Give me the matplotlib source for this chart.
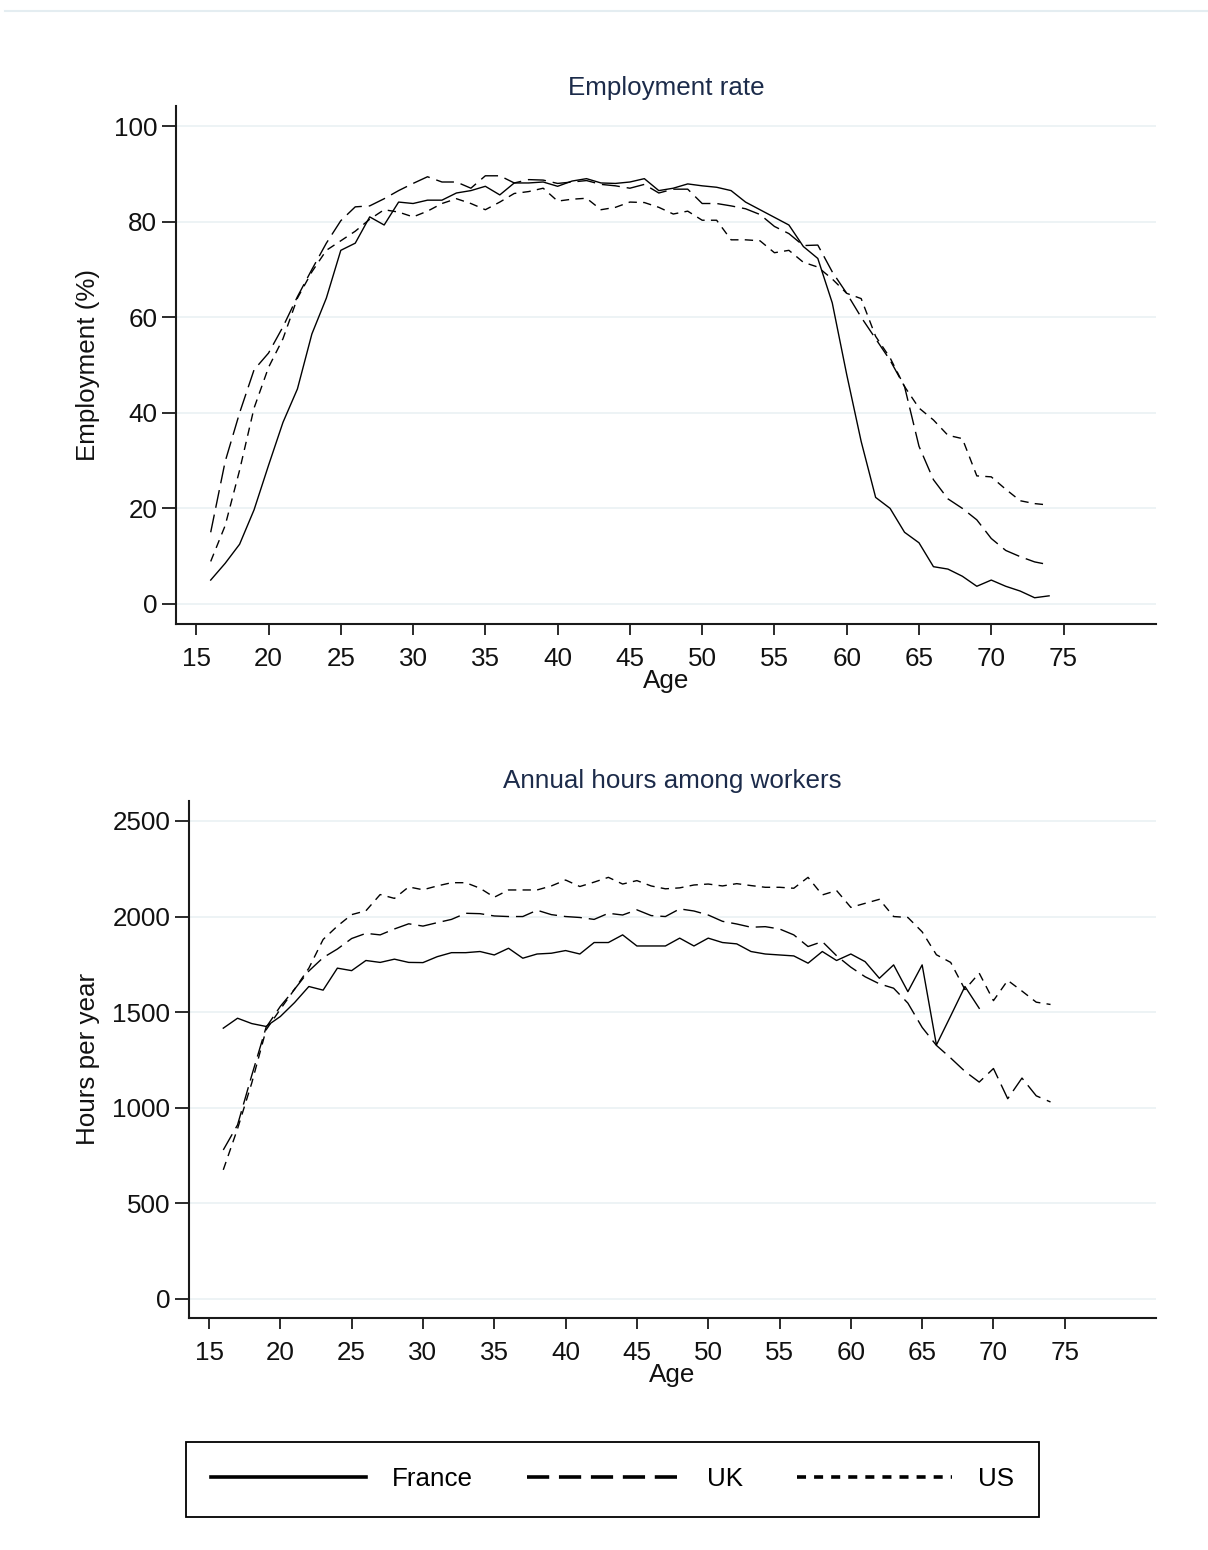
import matplotlib
matplotlib.use("Agg")
import matplotlib.pyplot as plt
from matplotlib.lines import Line2D

plt.rcParams["font.family"] = ["Liberation Sans", "DejaVu Sans"]
plt.rcParams["lines.scale_dashes"] = False

# Age groups
ages = list(range(16, 75))
ages_france_hours = list(range(16, 70))

# Employment rate (%) by age
emp_france = [5.0, 8.5, 12.5, 19.7, 29.0, 38.0, 45.0, 56.5, 64.0, 74.0,
              75.5, 81.0, 79.3, 84.1, 83.8, 84.5, 84.5, 86.0, 86.5, 87.4,
              85.6, 88.1, 88.1, 88.3, 87.4, 88.5, 89.0, 88.1, 88.0, 88.3,
              89.0, 86.5, 87.0, 87.9, 87.5, 87.2, 86.5, 84.1, 82.5, 80.9,
              79.3, 74.8, 72.3, 63.0, 48.0, 34.0, 22.3, 20.0, 15.0, 12.8,
              7.8, 7.3, 5.8, 3.7, 5.0, 3.7, 2.7, 1.3, 1.7]
emp_uk = [15.0, 29.8, 40.0, 49.0, 52.5, 58.0, 64.3, 70.0, 75.5, 80.2,
          83.1, 83.3, 84.8, 86.5, 88.0, 89.4, 88.3, 88.3, 87.0, 89.6,
          89.6, 88.1, 88.8, 88.7, 88.0, 88.3, 88.6, 87.8, 87.5, 87.0,
          87.8, 86.0, 86.8, 86.8, 83.8, 83.8, 83.3, 82.7, 81.5, 79.0,
          77.5, 75.0, 75.1, 69.5, 65.0, 60.0, 55.5, 51.0, 45.5, 33.0,
          26.0, 22.0, 20.0, 17.6, 13.7, 11.2, 9.9, 8.8, 8.2]
emp_us = [8.9, 16.4, 28.0, 41.0, 49.5, 55.5, 64.0, 69.5, 74.0, 76.0,
          78.0, 80.5, 82.5, 82.0, 81.0, 82.2, 83.8, 84.8, 83.8, 82.5,
          84.1, 85.9, 86.3, 87.0, 84.3, 84.7, 84.9, 82.5, 83.0, 84.1,
          84.0, 83.0, 81.6, 82.2, 80.3, 80.3, 76.2, 76.2, 76.0, 73.5,
          74.0, 71.5, 70.5, 68.0, 65.0, 63.9, 56.0, 51.5, 45.5, 41.0,
          38.5, 35.3, 34.6, 26.8, 26.6, 24.0, 21.6, 21.0, 20.7]

# Annual hours among workers by age
hours_france = [1416, 1468, 1440, 1425, 1477, 1550, 1634, 1615, 1730, 1717,
                1770, 1760, 1777, 1760, 1759, 1790, 1811, 1811, 1817, 1799,
                1834, 1782, 1804, 1808, 1822, 1804, 1864, 1864, 1904, 1846,
                1846, 1846, 1887, 1846, 1887, 1864, 1857, 1817, 1804, 1799,
                1794, 1756, 1817, 1770, 1804, 1764, 1677, 1747, 1607, 1747,
                1328, 1480, 1634, 1520]
hours_uk = [779, 910, 1170, 1420, 1530, 1620, 1715, 1785, 1830, 1885,
            1912, 1904, 1935, 1962, 1950, 1968, 1985, 2017, 2015, 2003,
            2000, 2000, 2033, 2010, 2000, 1995, 1985, 2017, 2008, 2035,
            2005, 2000, 2040, 2029, 2008, 1975, 1961, 1944, 1947, 1935,
            1904, 1843, 1869, 1795, 1735, 1685, 1648, 1625, 1547, 1420,
            1326, 1260, 1190, 1134, 1205, 1047, 1155, 1062, 1030]
hours_us = [675, 890, 1130, 1407, 1515, 1620, 1730, 1880, 1950, 2010,
            2030, 2115, 2095, 2155, 2140, 2160, 2177, 2177, 2148, 2101,
            2139, 2139, 2139, 2160, 2191, 2157, 2180, 2205, 2170, 2188,
            2160, 2145, 2150, 2165, 2170, 2160, 2172, 2162, 2153, 2153,
            2148, 2205, 2113, 2136, 2048, 2069, 2090, 2000, 1995, 1920,
            1800, 1760, 1618, 1704, 1560, 1666, 1610, 1552, 1540]

x_ticks = list(range(15, 80, 5))
emp_ticks = [0, 20, 40, 60, 80, 100]
hours_ticks = [0, 500, 1000, 1500, 2000, 2500]
countries = ["France", "UK", "US"]

FS = 18.7
TITLE_COLOR = "#1c2b4a"
GRID_COLOR = "#e8f0f2"
AXIS_COLOR = "#1a1a1a"
LINE_W = 1.0
UK_DASH = (0, (13, 5))
US_DASH = (0, (6, 4.5))


def style_axes(ax, title, title_pad, ylabel, ylabel_x, yticks, ylim):
    ax.set_xlim(13.6, 81.4)
    ax.set_ylim(*ylim)
    ax.set_xticks(x_ticks)
    ax.set_yticks(yticks)
    ax.tick_params(axis="x", length=8, width=1.3, pad=8.5, labelsize=FS,
                   color=AXIS_COLOR, labelcolor="#111111")
    ax.tick_params(axis="y", length=10, width=1.3, pad=3.5, labelsize=FS,
                   color=AXIS_COLOR, labelcolor="#111111")
    for side in ["top", "right"]:
        ax.spines[side].set_visible(False)
    for side in ["left", "bottom"]:
        ax.spines[side].set_linewidth(1.5)
        ax.spines[side].set_color(AXIS_COLOR)
    ax.grid(axis="y", color=GRID_COLOR, linewidth=1.1)
    ax.set_axisbelow(True)
    ax.set_title(title, fontsize=FS, color=TITLE_COLOR, pad=title_pad)
    ax.set_xlabel("Age", fontsize=FS, color="#111111", va="center")
    ax.xaxis.set_label_coords(0.5, -0.11)
    ax.set_ylabel(ylabel, fontsize=FS, color="#111111", va="center")
    ax.yaxis.set_label_coords(ylabel_x, 0.5)


def main():
    fig = plt.figure(figsize=(12.08, 15.5), dpi=100)

    # faint border line along the top edge
    fig.add_artist(Line2D([0.004, 1.0], [1 - 11 / 1550, 1 - 11 / 1550],
                          color="#e4edf1", linewidth=1.5, transform=fig.transFigure))

    ax1 = fig.add_axes([0.1457, 0.5974, 0.8113, 0.3342])
    ax1.plot(ages, emp_france, color="black", linewidth=LINE_W)
    ax1.plot(ages, emp_uk, color="black", linewidth=LINE_W, linestyle=UK_DASH)
    ax1.plot(ages, emp_us, color="black", linewidth=LINE_W, linestyle=US_DASH)
    style_axes(ax1, "Employment rate", 7.7, "Employment (%)", -0.0898,
               emp_ticks, (-4.2, 104.2))

    ax2 = fig.add_axes([0.1565, 0.1497, 0.8005, 0.3336])
    ax2.plot(ages_france_hours, hours_france, color="black", linewidth=LINE_W)
    ax2.plot(ages, hours_uk, color="black", linewidth=LINE_W, linestyle=UK_DASH)
    ax2.plot(ages, hours_us, color="black", linewidth=LINE_W, linestyle=US_DASH)
    style_axes(ax2, "Annual hours among workers", 9.1, "Hours per year", -0.1044,
               hours_ticks, (-100, 2605))

    # legend uses heavier proxy lines
    handles = [
        Line2D([], [], color="black", linewidth=2.6),
        Line2D([], [], color="black", linewidth=2.6, linestyle=(0, (16, 7))),
        Line2D([], [], color="black", linewidth=2.6, linestyle=(0, (6.5, 5.8))),
    ]
    leg = fig.legend(handles, countries, loc="center", bbox_to_anchor=(0.507, 0.0455),
                     ncol=3, fontsize=FS, frameon=True, fancybox=False,
                     handlelength=5.96, handletextpad=1.0, columnspacing=2.07,
                     borderpad=0.98)
    leg.get_frame().set_edgecolor("black")
    leg.get_frame().set_linewidth(1.3)
    leg.get_frame().set_alpha(None)

    plt.savefig("out.png", dpi=100)


if __name__ == "__main__":
    main()
